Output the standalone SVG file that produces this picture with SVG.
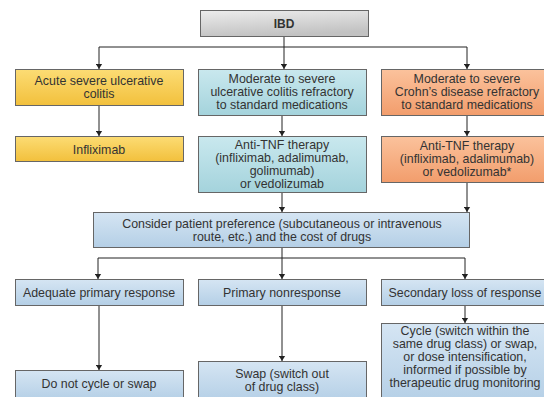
<svg xmlns="http://www.w3.org/2000/svg" width="544" height="397" viewBox="0 0 544 397">
<defs>
<linearGradient id="gGray" x1="0" y1="0" x2="0.3" y2="1"><stop offset="0" stop-color="#ededed"/><stop offset="1" stop-color="#c2c2c2"/></linearGradient>
<linearGradient id="gYel" x1="0" y1="0" x2="0" y2="1"><stop offset="0" stop-color="#fcdc74"/><stop offset="1" stop-color="#f2c03c"/></linearGradient>
<linearGradient id="gTeal" x1="0" y1="0" x2="0" y2="1"><stop offset="0" stop-color="#c9e8ee"/><stop offset="1" stop-color="#a4d3dc"/></linearGradient>
<linearGradient id="gOr" x1="0" y1="0" x2="0" y2="1"><stop offset="0" stop-color="#fbc29c"/><stop offset="1" stop-color="#f29d6c"/></linearGradient>
<linearGradient id="gBlue" x1="0" y1="0" x2="0" y2="1"><stop offset="0" stop-color="#d5e5f3"/><stop offset="1" stop-color="#b4cfe6"/></linearGradient>
<marker id="arr" viewBox="0 0 8 10" refX="8" refY="5" markerWidth="5" markerHeight="7" orient="auto" markerUnits="userSpaceOnUse"><path d="M0,0 L8,5 L0,10 z" fill="#222"/></marker>
</defs>
<style>
.box{stroke:#666;stroke-width:1}
.t{font-family:"Liberation Sans",Arial,sans-serif;font-size:12.4px;fill:#333;text-anchor:middle}
.b{font-weight:bold;font-size:12px}
.c{fill:none;stroke:#222;stroke-width:1}
</style>
<rect width="544" height="397" fill="#fff"/>
<g id="connectors">
<path class="c" d="M284,36 V47"/>
<path class="c" d="M99,47 H467"/>
<path class="c" d="M99,47 V69" marker-end="url(#arr)"/>
<path class="c" d="M284,47 V69" marker-end="url(#arr)"/>
<path class="c" d="M467,47 V69" marker-end="url(#arr)"/>
<path class="c" d="M99,106 V136" marker-end="url(#arr)"/>
<path class="c" d="M282,116 V136" marker-end="url(#arr)"/>
<path class="c" d="M467,116 V136" marker-end="url(#arr)"/>
<path class="c" d="M282,193 V212" marker-end="url(#arr)"/>
<path class="c" d="M467,183 V212" marker-end="url(#arr)"/>
<path class="c" d="M282,248 V258"/>
<path class="c" d="M98,258 H465"/>
<path class="c" d="M98,258 V279" marker-end="url(#arr)"/>
<path class="c" d="M282,258 V279" marker-end="url(#arr)"/>
<path class="c" d="M465,258 V279" marker-end="url(#arr)"/>
<path class="c" d="M99,306 V370" marker-end="url(#arr)"/>
<path class="c" d="M282,306 V361" marker-end="url(#arr)"/>
<path class="c" d="M465,306 V323" marker-end="url(#arr)"/>
</g>
<g id="ibd"><rect class="box" x="200.5" y="10.5" width="168" height="26" fill="url(#gGray)"/><text class="t b" x="284" y="27.5">IBD</text></g>
<g id="acute"><rect class="box" x="15.5" y="69.5" width="168" height="36" fill="url(#gYel)"/><text class="t" x="99" y="84.5">Acute severe ulcerative</text><text class="t" x="99" y="97.5">colitis</text></g>
<g id="uc"><rect class="box" x="198.5" y="69.5" width="168" height="46" fill="url(#gTeal)"/><text class="t" x="282" y="82.5">Moderate to severe</text><text class="t" x="282" y="95.5">ulcerative colitis refractory</text><text class="t" x="282" y="108.5">to standard medications</text></g>
<g id="cd"><rect class="box" x="381.5" y="69.5" width="170" height="46" fill="url(#gOr)"/><text class="t" x="467" y="82.5">Moderate to severe</text><text class="t" x="467" y="95.5">Crohn’s disease refractory</text><text class="t" x="467" y="108.5">to standard medications</text></g>
<g id="infliximab"><rect class="box" x="15.5" y="136.5" width="168" height="25" fill="url(#gYel)"/><text class="t" x="99" y="153.5">Infliximab</text></g>
<g id="uc-therapy"><rect class="box" x="198.5" y="136.5" width="168" height="56" fill="url(#gTeal)"/><text class="t" x="282" y="148.5">Anti-TNF therapy</text><text class="t" x="282" y="161.5">(infliximab, adalimumab,</text><text class="t" x="282" y="174.5">golimumab)</text><text class="t" x="282" y="187.5">or vedolizumab</text></g>
<g id="cd-therapy"><rect class="box" x="381.5" y="136.5" width="170" height="46" fill="url(#gOr)"/><text class="t" x="467" y="150">Anti-TNF therapy</text><text class="t" x="467" y="163">(infliximab, adalimumab)</text><text class="t" x="467" y="176">or vedolizumab*</text></g>
<g id="consider"><rect class="box" x="93.5" y="212.5" width="376" height="35" fill="url(#gBlue)"/><text class="t" x="282" y="227.5">Consider patient preference (subcutaneous or intravenous</text><text class="t" x="282" y="240.5">route, etc.) and the cost of drugs</text></g>
<g id="adequate"><rect class="box" x="15.5" y="279.5" width="168" height="26" fill="url(#gBlue)"/><text class="t" x="99" y="297">Adequate primary response</text></g>
<g id="nonresponse"><rect class="box" x="198.5" y="279.5" width="168" height="26" fill="url(#gBlue)"/><text class="t" x="282" y="297">Primary nonresponse</text></g>
<g id="secondary"><rect class="box" x="381.5" y="279.5" width="170" height="26" fill="url(#gBlue)"/><text class="t" x="465" y="297">Secondary loss of response</text></g>
<g id="nocycle"><rect class="box" x="15.5" y="370.5" width="168" height="30" fill="url(#gBlue)"/><text class="t" x="99" y="388">Do not cycle or swap</text></g>
<g id="swap"><rect class="box" x="198.5" y="361.5" width="168" height="40" fill="url(#gBlue)"/><text class="t" x="282" y="378">Swap (switch out</text><text class="t" x="282" y="391">of drug class)</text></g>
<g id="cycle"><rect class="box" x="381.5" y="323.5" width="170" height="80" fill="url(#gBlue)"/><text class="t" x="465" y="335">Cycle (switch within the</text><text class="t" x="465" y="348">same drug class) or swap,</text><text class="t" x="465" y="361">or dose intensification,</text><text class="t" x="465" y="374">informed if possible by</text><text class="t" x="465" y="387">therapeutic drug monitoring</text></g>
</svg>
